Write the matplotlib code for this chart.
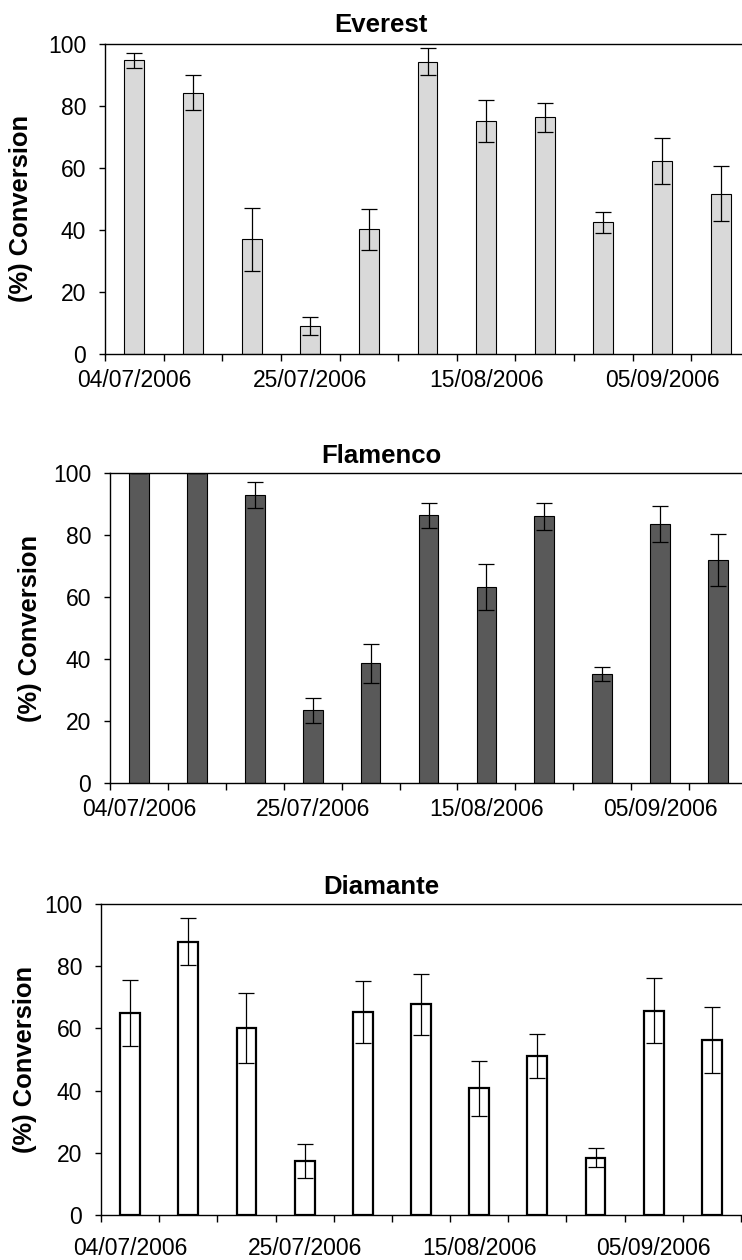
import matplotlib
matplotlib.use("Agg")
import matplotlib.pyplot as plt
import numpy as np

plt.rcParams['font.family'] = ['Liberation Sans', 'DejaVu Sans']

dates = ["04/07/2006", "11/07/2006", "18/07/2006", "25/07/2006", "01/08/2006",
         "08/08/2006", "15/08/2006", "22/08/2006", "29/08/2006", "05/09/2006",
         "12/09/2006"]

everest = [94.7, 84.3, 37.0, 9.0, 40.2, 94.3, 75.2, 76.3, 42.5, 62.4, 51.7]
everest_err = [2.5, 5.7, 10.2, 3.0, 6.5, 4.4, 6.8, 4.6, 3.4, 7.4, 8.8]

flamenco = [100, 100, 92.8, 23.4, 38.6, 86.3, 63.2, 86.0, 35.1, 83.5, 71.9]
flamenco_err = [0, 0, 4.2, 4.0, 6.2, 4.1, 7.4, 4.3, 2.2, 5.8, 8.5]

diamante = [64.9, 87.9, 60.1, 17.3, 65.3, 67.7, 40.7, 51.0, 18.4, 65.7, 56.2]
diamante_err = [10.7, 7.5, 11.3, 5.4, 9.9, 9.8, 8.9, 7.1, 3.0, 10.5, 10.7]

W, H = 742, 1260
fig = plt.figure(figsize=(W / 100, H / 100), dpi=100)

# the plot areas run slightly past the right edge of the picture, as in the original
# (title, values, errors, face, edge lw, left, right, top, bottom px, xlabel pad, title pad, ylabel x, ylabel y)
panels = [
    ("Everest", everest, everest_err, "#d9d9d9", 0.8, 105, 750, 44, 354, 10.5, 9.0, 33, 0.47),
    ("Flamenco", flamenco, flamenco_err, "#595959", 0.8, 110, 747, 473, 783, 10.5, 7.2, 42, 0.5),
    ("Diamante", diamante, diamante_err, "white", 1.6, 101, 741, 904, 1215, 16.0, 7.2, 37, 0.5),
]

x = np.arange(len(dates))
for title, vals, errs, face, elw, l, r, t, b, xpad, tpad, ylx, yly in panels:
    ax = fig.add_axes([l / W, 1 - b / H, (r - l) / W, (b - t) / H])
    ax.bar(x, vals, width=0.34, color=face, edgecolor="black", linewidth=elw, zorder=2)
    ax.errorbar(x, vals, yerr=errs, fmt="none", ecolor="black", elinewidth=0.9,
                capsize=5.5, capthick=0.9, zorder=3)
    ax.set_xlim(-0.5, len(dates) - 0.5)
    ax.set_ylim(0, 100)
    ax.set_yticks(range(0, 101, 20))
    ax.set_xticks(np.arange(-0.5, len(dates), 1.0))
    ax.set_xticklabels([])
    ax.set_xticks(x[::3], minor=True)
    ax.set_xticklabels([dates[i] for i in x[::3]], minor=True)
    ax.tick_params(axis="x", which="minor", length=0, pad=xpad, labelsize=16.5)
    ax.tick_params(axis="x", which="major", length=5, width=1, direction="out")
    ax.tick_params(axis="y", length=4, width=1, direction="out", labelsize=16.5, pad=9.5)
    ax.spines["right"].set_visible(False)
    for s in ["left", "bottom", "top"]:
        ax.spines[s].set_linewidth(1)
    ax.set_title(title, fontsize=18.5, fontweight="bold", pad=tpad,
                 x=(381 - l) / (r - l))
    ax.set_ylabel("(%) Conversion", fontsize=18.4, fontweight="bold")
    ax.yaxis.set_label_coords((ylx - l) / (r - l), yly)

fig.savefig("out.png", dpi=100)
